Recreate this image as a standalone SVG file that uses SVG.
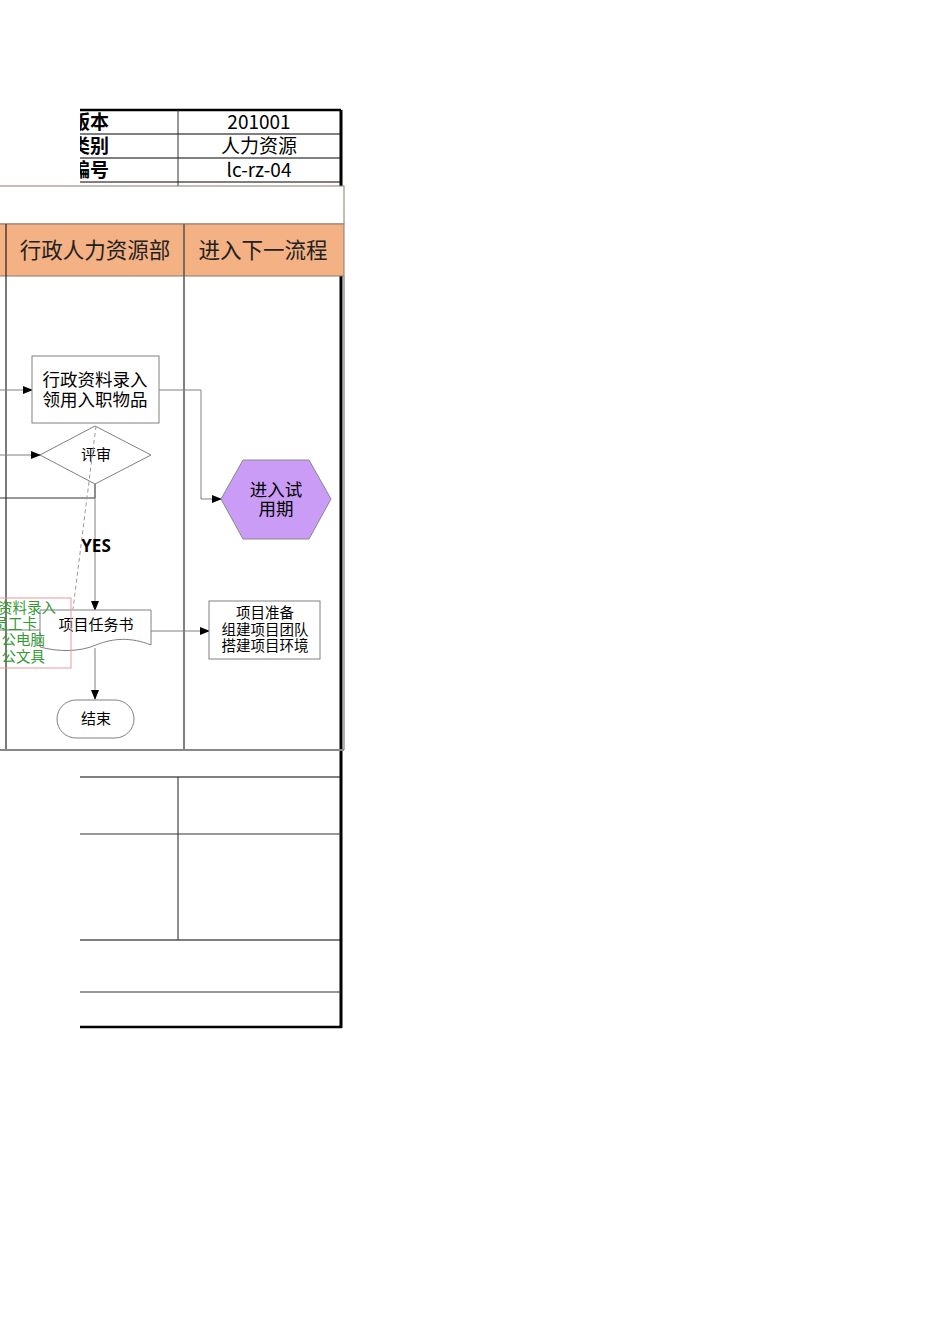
<svg xmlns="http://www.w3.org/2000/svg" width="950" height="1344" viewBox="0 0 950 1344">
<style>
.lbl{font-family:"Noto Sans CJK SC","Liberation Sans",sans-serif;font-weight:bold;font-size:19px;fill:#000;}
.cell{font-family:"Noto Sans CJK SC","Liberation Sans",sans-serif;font-size:19px;fill:#000;text-anchor:middle;}
.hdr{font-family:"Noto Sans CJK SC","Liberation Sans",sans-serif;font-size:21.5px;fill:#222;text-anchor:middle;}
.node{fill:#fff;stroke:#808080;stroke-width:1;}
.txt{font-family:"Noto Sans CJK SC","Liberation Sans",sans-serif;fill:#000;text-anchor:middle;}
.con{fill:none;stroke:#808080;stroke-width:1;}
.grn{font-family:"Noto Sans CJK SC","Liberation Sans",sans-serif;font-size:14.5px;fill:#339933;text-anchor:end;}
</style>
<defs>
<marker id="ah" markerWidth="10" markerHeight="8" refX="9" refY="4" orient="auto" markerUnits="userSpaceOnUse">
<path d="M0,0 L10,4 L0,8 Z" fill="#000"/>
</marker>
<clipPath id="clipL"><rect x="80" y="100" width="300" height="100"/></clipPath>
</defs>
<rect width="950" height="1344" fill="#fff"/>

<g id="header-table">
<g clip-path="url(#clipL)">
<text class="lbl" x="109" y="129" text-anchor="end">版本</text>
<text class="lbl" x="109" y="153" text-anchor="end">类别</text>
<text class="lbl" x="109" y="177" text-anchor="end">编号</text>
</g>
<line x1="80" y1="110" x2="341" y2="110" stroke="#000" stroke-width="2.5"/>
<line x1="80" y1="134" x2="341" y2="134" stroke="#000" stroke-width="1"/>
<line x1="80" y1="158" x2="341" y2="158" stroke="#000" stroke-width="1"/>
<line x1="80" y1="182" x2="341" y2="182" stroke="#000" stroke-width="1"/>
<line x1="178" y1="110" x2="178" y2="186" stroke="#333" stroke-width="1"/>
<text class="cell" x="259" y="129">201001</text>
<text class="cell" x="259" y="153">人力资源</text>
<text class="cell" x="259" y="177">lc-rz-04</text>
</g>

<g id="right-border">
<line x1="341" y1="110" x2="341" y2="1028" stroke="#000" stroke-width="3"/>
</g>

<g id="frame">
<rect x="-2" y="186" width="346" height="38" fill="#fff" stroke="#8c7b70" stroke-width="1"/>
<rect x="-2" y="224" width="346" height="52" fill="#F4B183" stroke="#8c7b70" stroke-width="1"/>
<line x1="6" y1="224" x2="6" y2="750" stroke="#222" stroke-width="1.2"/>
<line x1="184" y1="224" x2="184" y2="750" stroke="#555" stroke-width="1.5"/>
<line x1="344" y1="276" x2="344" y2="750" stroke="#999" stroke-width="1.5"/>
<line x1="-2" y1="750" x2="344" y2="750" stroke="#888" stroke-width="2"/>
<text class="hdr" x="95" y="258">行政人力资源部</text>
<text class="hdr" x="263" y="258">进入下一流程</text>
</g>

<g id="bottom-table">
<line x1="80" y1="777" x2="341" y2="777" stroke="#000" stroke-width="1.2"/>
<line x1="80" y1="834" x2="341" y2="834" stroke="#333" stroke-width="1.2"/>
<line x1="80" y1="940" x2="341" y2="940" stroke="#000" stroke-width="1.2"/>
<line x1="80" y1="992" x2="341" y2="992" stroke="#333" stroke-width="1.2"/>
<line x1="80" y1="1027" x2="342" y2="1027" stroke="#000" stroke-width="2.5"/>
<line x1="178" y1="777" x2="178" y2="940" stroke="#444" stroke-width="1.2"/>
</g>

<g id="connectors">
<line class="con" x1="0" y1="390" x2="32" y2="390" marker-end="url(#ah)"/>
<line class="con" x1="0" y1="455" x2="40" y2="455" marker-end="url(#ah)"/>
<polyline class="con" points="159,390 201,390 201,499 221,499" marker-end="url(#ah)"/>
<polyline fill="none" stroke="#333" stroke-width="1" points="0,498 95,498 95,484"/>
<line class="con" x1="95" y1="484" x2="95" y2="610" marker-end="url(#ah)"/>
<line class="con" x1="151" y1="631" x2="209" y2="631" marker-end="url(#ah)"/>
<line class="con" x1="95" y1="648" x2="95" y2="699" marker-end="url(#ah)"/>
<line class="con" x1="0" y1="630" x2="40" y2="630"/>
</g>

<g id="node-admin-entry">
<rect class="node" x="32" y="356" width="127" height="67"/>
<text class="txt" x="95" y="386" font-size="17.5">行政资料录入</text>
<text class="txt" x="95" y="406" font-size="17.5">领用入职物品</text>
</g>

<g id="node-review">
<polygon class="node" points="40,455 95,426 151,455 95,484"/>
<text class="txt" x="96" y="460" font-size="15">评审</text>
</g>

<g id="label-yes">
<text x="96" y="552" font-family="'Open Sans','Liberation Sans',sans-serif" font-weight="bold" font-size="17" text-anchor="middle" fill="#000">YES</text>
</g>

<g id="node-probation">
<polygon points="221,499 243,460 309,460 331,499 309,539 243,539" fill="#CA9CF6" stroke="#888" stroke-width="1"/>
<text class="txt" x="276" y="496" font-size="17.5">进入试</text>
<text class="txt" x="276" y="515" font-size="17.5">用期</text>
</g>

<g id="node-taskbook">
<path class="node" d="M40,610 H151 V645 C131,637 113,638 96,645 C80,652 58,652 40,647 Z"/>
<text class="txt" x="96" y="630" font-size="15">项目任务书</text>
</g>

<g id="node-note">
<rect x="-5" y="598" width="76" height="70" fill="none" stroke="#eb9a9a" stroke-width="1"/>
<text class="grn" x="56" y="613">资料录入</text>
<text class="grn" x="37" y="629">员工卡</text>
<text class="grn" x="45" y="645">公电脑</text>
<text class="grn" x="45" y="662">公文具</text>
</g>

<g id="node-project-prep">
<rect class="node" x="209" y="601" width="111" height="58"/>
<text class="txt" x="265" y="618" font-size="14.5">项目准备</text>
<text class="txt" x="265" y="635" font-size="14.5">组建项目团队</text>
<text class="txt" x="265" y="651" font-size="14.5">搭建项目环境</text>
</g>

<g id="node-end">
<rect class="node" x="57" y="700" width="77" height="38" rx="19" ry="19"/>
<text class="txt" x="96" y="724" font-size="15">结束</text>
</g>

<g id="dashed-link">
<line x1="96" y1="426" x2="73" y2="609" stroke="#999" stroke-width="1" stroke-dasharray="4,3"/>
</g>
</svg>
